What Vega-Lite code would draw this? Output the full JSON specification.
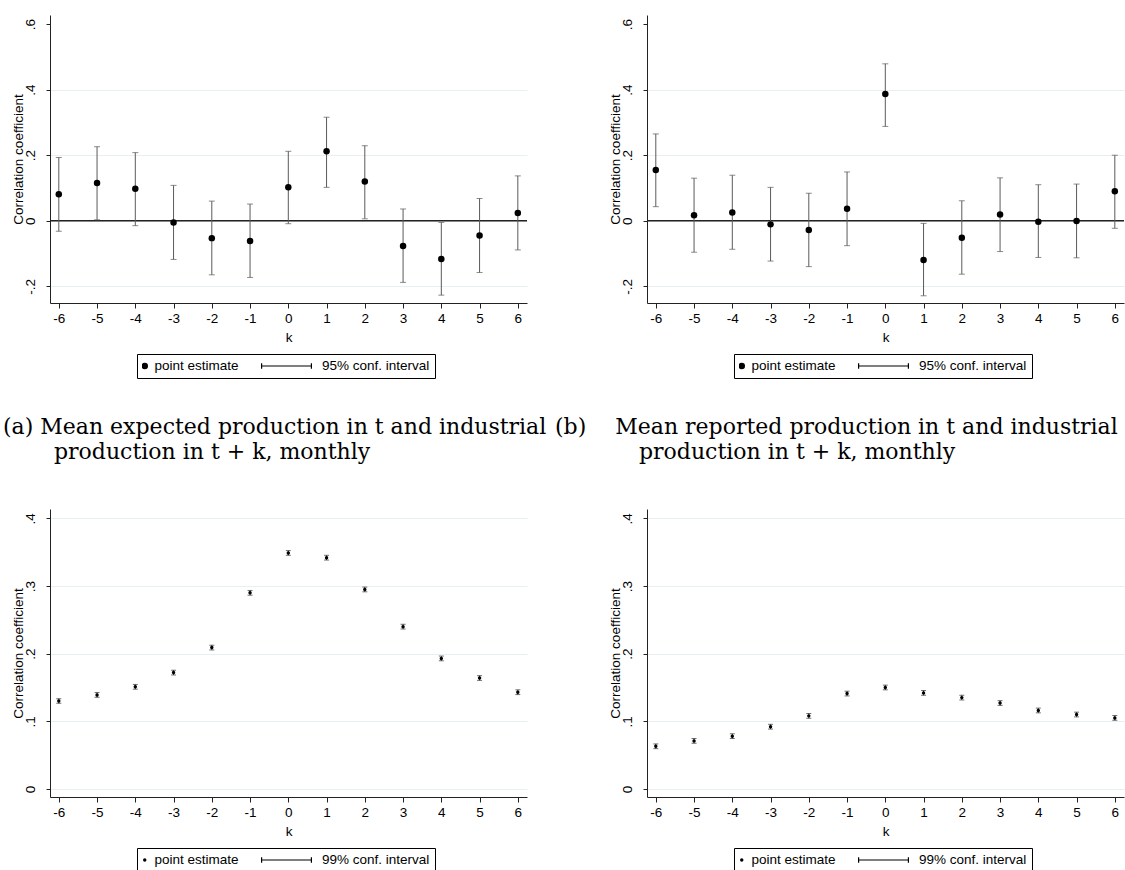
{
  "$schema": "https://vega.github.io/schema/vega-lite/v6.json",
  "background": "white",
  "padding": {"left": 3, "top": 15, "right": 0, "bottom": 0},
  "columns": 2,
  "spacing": {"row": 206, "column": 120},
  "bounds": "flush",
  "resolve": {"scale": {"shape": "independent", "size": "independent"}, "legend": {"shape": "independent", "size": "independent"}},
  "config": {
    "view": {"stroke": null},
    "font": "Liberation Sans",
    "axis": {"labelFont": "Liberation Sans", "labelFontSize": 13.5, "labelColor": "black", "titleFont": "Liberation Sans", "titleFontSize": 13.5, "titleFontWeight": "normal", "titleColor": "black", "domainColor": "#222222", "domainWidth": 1, "tickColor": "#222222", "tickWidth": 1, "labelOverlap": false},
    "axisX": {"tickSize": 5, "labelPadding": 3, "titlePadding": 6, "grid": false},
    "axisY": {"tickSize": 4, "labelPadding": 9, "titlePadding": -2.5, "labelAngle": -90, "grid": true, "gridWidth": 1},
    "legend": {"symbolStrokeColor": "black", "symbolFillColor": "black", "symbolStrokeWidth": 1}
  },
  "concat": [
    {
      "width": 477, "height": 288,
      "title": {"text": ["(a) Mean expected production in t and industrial", "\u200b\u2003\u2003 production in t + k, monthly"], "orient": "bottom", "anchor": "start", "frame": "group", "align": "left", "baseline": "top", "dx": -47, "offset": 38, "font": "DejaVu Serif", "fontSize": 22, "fontWeight": "normal", "lineHeight": 25, "color": "black"},
      "data": {"values": [
        {"k": -6, "est": 0.081, "lo": -0.032, "hi": 0.193, "series": "point estimate"},
        {"k": -5, "est": 0.115, "lo": 0.003, "hi": 0.226, "series": "point estimate"},
        {"k": -4, "est": 0.098, "lo": -0.015, "hi": 0.208, "series": "point estimate"},
        {"k": -3, "est": -0.005, "lo": -0.118, "hi": 0.108, "series": "point estimate"},
        {"k": -2, "est": -0.053, "lo": -0.165, "hi": 0.060, "series": "point estimate"},
        {"k": -1, "est": -0.062, "lo": -0.173, "hi": 0.051, "series": "point estimate"},
        {"k": 0, "est": 0.102, "lo": -0.009, "hi": 0.212, "series": "point estimate"},
        {"k": 1, "est": 0.212, "lo": 0.102, "hi": 0.316, "series": "point estimate"},
        {"k": 2, "est": 0.120, "lo": 0.006, "hi": 0.229, "series": "point estimate"},
        {"k": 3, "est": -0.077, "lo": -0.188, "hi": 0.036, "series": "point estimate"},
        {"k": 4, "est": -0.117, "lo": -0.227, "hi": -0.005, "series": "point estimate"},
        {"k": 5, "est": -0.045, "lo": -0.158, "hi": 0.068, "series": "point estimate"},
        {"k": 6, "est": 0.024, "lo": -0.089, "hi": 0.137, "series": "point estimate"}
      ]},
      "layer": [
        {"data": {"values": [{"ref": 0}]}, "mark": {"type": "rule", "color": "#222222", "strokeWidth": 1.3},
         "encoding": {"y": {"field": "ref", "type": "quantitative", "title": "Correlation coefficient", "scale": {"domain": [-0.251, 0.628], "nice": false, "zero": false},
                            "axis": {"values": [-0.2, 0, 0.2, 0.4, 0.6], "gridColor": {"condition": {"test": "datum.value > 0.5", "value": "transparent"}, "value": "#E6EFF1"}, "labelExpr": "datum.value == 0 ? '0' : (datum.value < 0 ? '-' : '') + replace(format(abs(datum.value), '.1f'), '0.', '.')"}}}},
        {"mark": {"type": "rule", "color": "#5a5a5a", "strokeWidth": 1},
         "encoding": {"x": {"field": "k", "type": "quantitative", "title": "k", "scale": {"domain": [-6.23, 6.24], "nice": false, "zero": false},
                            "axis": {"values": [-6, -5, -4, -3, -2, -1, 0, 1, 2, 3, 4, 5, 6], "labelOverlap": false, "labelExpr": "datum.value < 0 ? '-' + abs(datum.value) : '' + datum.value"}},
                      "y": {"field": "lo", "type": "quantitative", "title": "Correlation coefficient", "scale": {"domain": [-0.251, 0.628], "nice": false, "zero": false},
                            "axis": {"values": [-0.2, 0, 0.2, 0.4, 0.6], "gridColor": {"condition": {"test": "datum.value > 0.5", "value": "transparent"}, "value": "#E6EFF1"}, "labelExpr": "datum.value == 0 ? '0' : (datum.value < 0 ? '-' : '') + replace(format(abs(datum.value), '.1f'), '0.', '.')"}},
                      "y2": {"field": "hi"}}},
        {"mark": {"type": "tick", "orient": "horizontal", "size": 6, "thickness": 1, "color": "#5a5a5a"},
         "encoding": {"x": {"field": "k", "type": "quantitative", "title": "k", "scale": {"domain": [-6.23, 6.24], "nice": false, "zero": false},
                            "axis": {"values": [-6, -5, -4, -3, -2, -1, 0, 1, 2, 3, 4, 5, 6], "labelOverlap": false, "labelExpr": "datum.value < 0 ? '-' + abs(datum.value) : '' + datum.value"}},
                      "y": {"field": "lo", "type": "quantitative", "title": "Correlation coefficient", "scale": {"domain": [-0.251, 0.628], "nice": false, "zero": false},
                            "axis": {"values": [-0.2, 0, 0.2, 0.4, 0.6], "gridColor": {"condition": {"test": "datum.value > 0.5", "value": "transparent"}, "value": "#E6EFF1"}, "labelExpr": "datum.value == 0 ? '0' : (datum.value < 0 ? '-' : '') + replace(format(abs(datum.value), '.1f'), '0.', '.')"}}}},
        {"mark": {"type": "tick", "orient": "horizontal", "size": 6, "thickness": 1, "color": "#5a5a5a"},
         "encoding": {"x": {"field": "k", "type": "quantitative", "title": "k", "scale": {"domain": [-6.23, 6.24], "nice": false, "zero": false},
                            "axis": {"values": [-6, -5, -4, -3, -2, -1, 0, 1, 2, 3, 4, 5, 6], "labelOverlap": false, "labelExpr": "datum.value < 0 ? '-' + abs(datum.value) : '' + datum.value"}},
                      "y": {"field": "hi", "type": "quantitative", "title": "Correlation coefficient", "scale": {"domain": [-0.251, 0.628], "nice": false, "zero": false},
                            "axis": {"values": [-0.2, 0, 0.2, 0.4, 0.6], "gridColor": {"condition": {"test": "datum.value > 0.5", "value": "transparent"}, "value": "#E6EFF1"}, "labelExpr": "datum.value == 0 ? '0' : (datum.value < 0 ? '-' : '') + replace(format(abs(datum.value), '.1f'), '0.', '.')"}}}},
        {"mark": {"type": "point", "filled": true, "color": "black", "opacity": 1},
         "encoding": {
           "x": {"field": "k", "type": "quantitative", "title": "k", "scale": {"domain": [-6.23, 6.24], "nice": false, "zero": false},
                 "axis": {"values": [-6, -5, -4, -3, -2, -1, 0, 1, 2, 3, 4, 5, 6], "labelOverlap": false, "labelExpr": "datum.value < 0 ? '-' + abs(datum.value) : '' + datum.value"}},
           "y": {"field": "est", "type": "quantitative", "title": "Correlation coefficient", "scale": {"domain": [-0.251, 0.628], "nice": false, "zero": false},
                 "axis": {"values": [-0.2, 0, 0.2, 0.4, 0.6], "gridColor": {"condition": {"test": "datum.value > 0.5", "value": "transparent"}, "value": "#E6EFF1"}, "labelExpr": "datum.value == 0 ? '0' : (datum.value < 0 ? '-' : '') + replace(format(abs(datum.value), '.1f'), '0.', '.')"}},
           "shape": {"field": "series", "type": "nominal", "scale": {"domain": ["point estimate", "95% conf. interval"], "range": ["circle", "M-0.825,-0.09H-0.787V-0.018H0.756V-0.09H0.794V0.09H0.756V0.018H-0.787V0.09H-0.825Z"]},
                     "legend": {"title": null, "orient": "none", "legendX": 87, "legendY": 339, "direction": "horizontal", "strokeColor": "black", "fillColor": "white", "padding": 5, "clipHeight": 14, "labelOffset": 3, "columnPadding": 20, "symbolOffset": -4, "labelFont": "Liberation Sans", "labelFontSize": 13.5, "labelColor": "black"}},
           "size": {"field": "series", "type": "nominal", "scale": {"type": "point", "domain": ["point estimate", "95% conf. interval"], "range": [42, 3969]},
                    "legend": {"title": null, "orient": "none", "legendX": 87, "legendY": 339, "direction": "horizontal", "strokeColor": "black", "fillColor": "white", "padding": 5, "clipHeight": 14, "labelOffset": 3, "columnPadding": 20, "symbolOffset": -4, "labelFont": "Liberation Sans", "labelFontSize": 13.5, "labelColor": "black"}}
         }}
      ]
    },
    {
      "width": 477, "height": 288,
      "title": {"text": ["(b)\u2003 Mean reported production in t and industrial", "\u200b\u2003\u2003\u2003\u2002 production in t + k, monthly"], "orient": "bottom", "anchor": "start", "frame": "group", "align": "left", "baseline": "top", "dx": -92, "offset": 38, "font": "DejaVu Serif", "fontSize": 22, "fontWeight": "normal", "lineHeight": 25, "color": "black"},
      "data": {"values": [
        {"k": -6, "est": 0.155, "lo": 0.043, "hi": 0.265, "series": "point estimate"},
        {"k": -5, "est": 0.017, "lo": -0.096, "hi": 0.130, "series": "point estimate"},
        {"k": -4, "est": 0.025, "lo": -0.087, "hi": 0.139, "series": "point estimate"},
        {"k": -3, "est": -0.011, "lo": -0.123, "hi": 0.102, "series": "point estimate"},
        {"k": -2, "est": -0.028, "lo": -0.140, "hi": 0.084, "series": "point estimate"},
        {"k": -1, "est": 0.037, "lo": -0.076, "hi": 0.149, "series": "point estimate"},
        {"k": 0, "est": 0.387, "lo": 0.288, "hi": 0.479, "series": "point estimate"},
        {"k": 1, "est": -0.120, "lo": -0.229, "hi": -0.008, "series": "point estimate"},
        {"k": 2, "est": -0.052, "lo": -0.163, "hi": 0.061, "series": "point estimate"},
        {"k": 3, "est": 0.019, "lo": -0.094, "hi": 0.131, "series": "point estimate"},
        {"k": 4, "est": -0.003, "lo": -0.112, "hi": 0.110, "series": "point estimate"},
        {"k": 5, "est": -0.001, "lo": -0.113, "hi": 0.112, "series": "point estimate"},
        {"k": 6, "est": 0.090, "lo": -0.023, "hi": 0.200, "series": "point estimate"}
      ]},
      "layer": [
        {"data": {"values": [{"ref": 0}]}, "mark": {"type": "rule", "color": "#222222", "strokeWidth": 1.3},
         "encoding": {"y": {"field": "ref", "type": "quantitative", "title": "Correlation coefficient", "scale": {"domain": [-0.251, 0.628], "nice": false, "zero": false},
                            "axis": {"values": [-0.2, 0, 0.2, 0.4, 0.6], "gridColor": {"condition": {"test": "datum.value > 0.5", "value": "transparent"}, "value": "#E6EFF1"}, "labelExpr": "datum.value == 0 ? '0' : (datum.value < 0 ? '-' : '') + replace(format(abs(datum.value), '.1f'), '0.', '.')"}}}},
        {"mark": {"type": "rule", "color": "#5a5a5a", "strokeWidth": 1},
         "encoding": {"x": {"field": "k", "type": "quantitative", "title": "k", "scale": {"domain": [-6.23, 6.24], "nice": false, "zero": false},
                            "axis": {"values": [-6, -5, -4, -3, -2, -1, 0, 1, 2, 3, 4, 5, 6], "labelOverlap": false, "labelExpr": "datum.value < 0 ? '-' + abs(datum.value) : '' + datum.value"}},
                      "y": {"field": "lo", "type": "quantitative", "title": "Correlation coefficient", "scale": {"domain": [-0.251, 0.628], "nice": false, "zero": false},
                            "axis": {"values": [-0.2, 0, 0.2, 0.4, 0.6], "gridColor": {"condition": {"test": "datum.value > 0.5", "value": "transparent"}, "value": "#E6EFF1"}, "labelExpr": "datum.value == 0 ? '0' : (datum.value < 0 ? '-' : '') + replace(format(abs(datum.value), '.1f'), '0.', '.')"}},
                      "y2": {"field": "hi"}}},
        {"mark": {"type": "tick", "orient": "horizontal", "size": 6, "thickness": 1, "color": "#5a5a5a"},
         "encoding": {"x": {"field": "k", "type": "quantitative", "title": "k", "scale": {"domain": [-6.23, 6.24], "nice": false, "zero": false},
                            "axis": {"values": [-6, -5, -4, -3, -2, -1, 0, 1, 2, 3, 4, 5, 6], "labelOverlap": false, "labelExpr": "datum.value < 0 ? '-' + abs(datum.value) : '' + datum.value"}},
                      "y": {"field": "lo", "type": "quantitative", "title": "Correlation coefficient", "scale": {"domain": [-0.251, 0.628], "nice": false, "zero": false},
                            "axis": {"values": [-0.2, 0, 0.2, 0.4, 0.6], "gridColor": {"condition": {"test": "datum.value > 0.5", "value": "transparent"}, "value": "#E6EFF1"}, "labelExpr": "datum.value == 0 ? '0' : (datum.value < 0 ? '-' : '') + replace(format(abs(datum.value), '.1f'), '0.', '.')"}}}},
        {"mark": {"type": "tick", "orient": "horizontal", "size": 6, "thickness": 1, "color": "#5a5a5a"},
         "encoding": {"x": {"field": "k", "type": "quantitative", "title": "k", "scale": {"domain": [-6.23, 6.24], "nice": false, "zero": false},
                            "axis": {"values": [-6, -5, -4, -3, -2, -1, 0, 1, 2, 3, 4, 5, 6], "labelOverlap": false, "labelExpr": "datum.value < 0 ? '-' + abs(datum.value) : '' + datum.value"}},
                      "y": {"field": "hi", "type": "quantitative", "title": "Correlation coefficient", "scale": {"domain": [-0.251, 0.628], "nice": false, "zero": false},
                            "axis": {"values": [-0.2, 0, 0.2, 0.4, 0.6], "gridColor": {"condition": {"test": "datum.value > 0.5", "value": "transparent"}, "value": "#E6EFF1"}, "labelExpr": "datum.value == 0 ? '0' : (datum.value < 0 ? '-' : '') + replace(format(abs(datum.value), '.1f'), '0.', '.')"}}}},
        {"mark": {"type": "point", "filled": true, "color": "black", "opacity": 1},
         "encoding": {
           "x": {"field": "k", "type": "quantitative", "title": "k", "scale": {"domain": [-6.23, 6.24], "nice": false, "zero": false},
                 "axis": {"values": [-6, -5, -4, -3, -2, -1, 0, 1, 2, 3, 4, 5, 6], "labelOverlap": false, "labelExpr": "datum.value < 0 ? '-' + abs(datum.value) : '' + datum.value"}},
           "y": {"field": "est", "type": "quantitative", "title": "Correlation coefficient", "scale": {"domain": [-0.251, 0.628], "nice": false, "zero": false},
                 "axis": {"values": [-0.2, 0, 0.2, 0.4, 0.6], "gridColor": {"condition": {"test": "datum.value > 0.5", "value": "transparent"}, "value": "#E6EFF1"}, "labelExpr": "datum.value == 0 ? '0' : (datum.value < 0 ? '-' : '') + replace(format(abs(datum.value), '.1f'), '0.', '.')"}},
           "shape": {"field": "series", "type": "nominal", "scale": {"domain": ["point estimate", "95% conf. interval"], "range": ["circle", "M-0.825,-0.09H-0.787V-0.018H0.756V-0.09H0.794V0.09H0.756V0.018H-0.787V0.09H-0.825Z"]},
                     "legend": {"title": null, "orient": "none", "legendX": 87, "legendY": 339, "direction": "horizontal", "strokeColor": "black", "fillColor": "white", "padding": 5, "clipHeight": 14, "labelOffset": 3, "columnPadding": 20, "symbolOffset": -4, "labelFont": "Liberation Sans", "labelFontSize": 13.5, "labelColor": "black"}},
           "size": {"field": "series", "type": "nominal", "scale": {"type": "point", "domain": ["point estimate", "95% conf. interval"], "range": [42, 3969]},
                    "legend": {"title": null, "orient": "none", "legendX": 87, "legendY": 339, "direction": "horizontal", "strokeColor": "black", "fillColor": "white", "padding": 5, "clipHeight": 14, "labelOffset": 3, "columnPadding": 20, "symbolOffset": -4, "labelFont": "Liberation Sans", "labelFontSize": 13.5, "labelColor": "black"}}
         }}
      ]
    },
    {
      "width": 477, "height": 288,
      "data": {"values": [
        {"k": -6, "est": 0.130, "lo": 0.1265, "hi": 0.1335, "series": "point estimate"},
        {"k": -5, "est": 0.139, "lo": 0.1355, "hi": 0.1425, "series": "point estimate"},
        {"k": -4, "est": 0.151, "lo": 0.1475, "hi": 0.1545, "series": "point estimate"},
        {"k": -3, "est": 0.172, "lo": 0.1685, "hi": 0.1755, "series": "point estimate"},
        {"k": -2, "est": 0.209, "lo": 0.2055, "hi": 0.2125, "series": "point estimate"},
        {"k": -1, "est": 0.290, "lo": 0.2865, "hi": 0.2935, "series": "point estimate"},
        {"k": 0, "est": 0.349, "lo": 0.3455, "hi": 0.3525, "series": "point estimate"},
        {"k": 1, "est": 0.342, "lo": 0.3385, "hi": 0.3455, "series": "point estimate"},
        {"k": 2, "est": 0.295, "lo": 0.2915, "hi": 0.2985, "series": "point estimate"},
        {"k": 3, "est": 0.240, "lo": 0.2365, "hi": 0.2435, "series": "point estimate"},
        {"k": 4, "est": 0.193, "lo": 0.1895, "hi": 0.1965, "series": "point estimate"},
        {"k": 5, "est": 0.164, "lo": 0.1605, "hi": 0.1675, "series": "point estimate"},
        {"k": 6, "est": 0.143, "lo": 0.1395, "hi": 0.1465, "series": "point estimate"}
      ]},
      "layer": [
        {"mark": {"type": "rule", "color": "#333333", "strokeWidth": 1},
         "encoding": {"x": {"field": "k", "type": "quantitative", "title": "k", "scale": {"domain": [-6.23, 6.24], "nice": false, "zero": false},
                            "axis": {"values": [-6, -5, -4, -3, -2, -1, 0, 1, 2, 3, 4, 5, 6], "labelOverlap": false, "labelExpr": "datum.value < 0 ? '-' + abs(datum.value) : '' + datum.value"}},
                      "y": {"field": "lo", "type": "quantitative", "title": "Correlation coefficient", "scale": {"domain": [-0.012, 0.414], "nice": false, "zero": false},
                            "axis": {"values": [0, 0.1, 0.2, 0.3, 0.4], "gridColor": "#E6EFF1", "labelExpr": "datum.value == 0 ? '0' : (datum.value < 0 ? '-' : '') + replace(format(abs(datum.value), '.1f'), '0.', '.')"}},
                      "y2": {"field": "hi"}}},
        {"mark": {"type": "tick", "orient": "horizontal", "size": 5, "thickness": 1, "color": "#333333"},
         "encoding": {"x": {"field": "k", "type": "quantitative", "title": "k", "scale": {"domain": [-6.23, 6.24], "nice": false, "zero": false},
                            "axis": {"values": [-6, -5, -4, -3, -2, -1, 0, 1, 2, 3, 4, 5, 6], "labelOverlap": false, "labelExpr": "datum.value < 0 ? '-' + abs(datum.value) : '' + datum.value"}},
                      "y": {"field": "lo", "type": "quantitative", "title": "Correlation coefficient", "scale": {"domain": [-0.012, 0.414], "nice": false, "zero": false},
                            "axis": {"values": [0, 0.1, 0.2, 0.3, 0.4], "gridColor": "#E6EFF1", "labelExpr": "datum.value == 0 ? '0' : (datum.value < 0 ? '-' : '') + replace(format(abs(datum.value), '.1f'), '0.', '.')"}}}},
        {"mark": {"type": "tick", "orient": "horizontal", "size": 5, "thickness": 1, "color": "#333333"},
         "encoding": {"x": {"field": "k", "type": "quantitative", "title": "k", "scale": {"domain": [-6.23, 6.24], "nice": false, "zero": false},
                            "axis": {"values": [-6, -5, -4, -3, -2, -1, 0, 1, 2, 3, 4, 5, 6], "labelOverlap": false, "labelExpr": "datum.value < 0 ? '-' + abs(datum.value) : '' + datum.value"}},
                      "y": {"field": "hi", "type": "quantitative", "title": "Correlation coefficient", "scale": {"domain": [-0.012, 0.414], "nice": false, "zero": false},
                            "axis": {"values": [0, 0.1, 0.2, 0.3, 0.4], "gridColor": "#E6EFF1", "labelExpr": "datum.value == 0 ? '0' : (datum.value < 0 ? '-' : '') + replace(format(abs(datum.value), '.1f'), '0.', '.')"}}}},
        {"mark": {"type": "point", "filled": true, "color": "black", "opacity": 1},
         "encoding": {
           "x": {"field": "k", "type": "quantitative", "title": "k", "scale": {"domain": [-6.23, 6.24], "nice": false, "zero": false},
                 "axis": {"values": [-6, -5, -4, -3, -2, -1, 0, 1, 2, 3, 4, 5, 6], "labelOverlap": false, "labelExpr": "datum.value < 0 ? '-' + abs(datum.value) : '' + datum.value"}},
           "y": {"field": "est", "type": "quantitative", "title": "Correlation coefficient", "scale": {"domain": [-0.012, 0.414], "nice": false, "zero": false},
                 "axis": {"values": [0, 0.1, 0.2, 0.3, 0.4], "gridColor": "#E6EFF1", "labelExpr": "datum.value == 0 ? '0' : (datum.value < 0 ? '-' : '') + replace(format(abs(datum.value), '.1f'), '0.', '.')"}},
           "shape": {"field": "series", "type": "nominal", "scale": {"domain": ["point estimate", "99% conf. interval"], "range": ["circle", "M-0.825,-0.09H-0.787V-0.018H0.756V-0.09H0.794V0.09H0.756V0.018H-0.787V0.09H-0.825Z"]},
                     "legend": {"title": null, "orient": "none", "legendX": 87, "legendY": 339, "direction": "horizontal", "strokeColor": "black", "fillColor": "white", "padding": 5, "clipHeight": 14, "labelOffset": 3, "columnPadding": 20, "symbolOffset": -4, "labelFont": "Liberation Sans", "labelFontSize": 13.5, "labelColor": "black"}},
           "size": {"field": "series", "type": "nominal", "scale": {"type": "point", "domain": ["point estimate", "99% conf. interval"], "range": [12, 3969]},
                    "legend": {"title": null, "orient": "none", "legendX": 87, "legendY": 339, "direction": "horizontal", "strokeColor": "black", "fillColor": "white", "padding": 5, "clipHeight": 14, "labelOffset": 3, "columnPadding": 20, "symbolOffset": -4, "labelFont": "Liberation Sans", "labelFontSize": 13.5, "labelColor": "black"}}
         }}
      ]
    },
    {
      "width": 477, "height": 288,
      "data": {"values": [
        {"k": -6, "est": 0.063, "lo": 0.0595, "hi": 0.0665, "series": "point estimate"},
        {"k": -5, "est": 0.071, "lo": 0.0675, "hi": 0.0745, "series": "point estimate"},
        {"k": -4, "est": 0.078, "lo": 0.0745, "hi": 0.0815, "series": "point estimate"},
        {"k": -3, "est": 0.092, "lo": 0.0885, "hi": 0.0955, "series": "point estimate"},
        {"k": -2, "est": 0.108, "lo": 0.1045, "hi": 0.1115, "series": "point estimate"},
        {"k": -1, "est": 0.141, "lo": 0.1375, "hi": 0.1445, "series": "point estimate"},
        {"k": 0, "est": 0.150, "lo": 0.1465, "hi": 0.1535, "series": "point estimate"},
        {"k": 1, "est": 0.142, "lo": 0.1385, "hi": 0.1455, "series": "point estimate"},
        {"k": 2, "est": 0.135, "lo": 0.1315, "hi": 0.1385, "series": "point estimate"},
        {"k": 3, "est": 0.127, "lo": 0.1235, "hi": 0.1305, "series": "point estimate"},
        {"k": 4, "est": 0.116, "lo": 0.1125, "hi": 0.1195, "series": "point estimate"},
        {"k": 5, "est": 0.110, "lo": 0.1065, "hi": 0.1135, "series": "point estimate"},
        {"k": 6, "est": 0.105, "lo": 0.1015, "hi": 0.1085, "series": "point estimate"}
      ]},
      "layer": [
        {"mark": {"type": "rule", "color": "#333333", "strokeWidth": 1},
         "encoding": {"x": {"field": "k", "type": "quantitative", "title": "k", "scale": {"domain": [-6.23, 6.24], "nice": false, "zero": false},
                            "axis": {"values": [-6, -5, -4, -3, -2, -1, 0, 1, 2, 3, 4, 5, 6], "labelOverlap": false, "labelExpr": "datum.value < 0 ? '-' + abs(datum.value) : '' + datum.value"}},
                      "y": {"field": "lo", "type": "quantitative", "title": "Correlation coefficient", "scale": {"domain": [-0.012, 0.414], "nice": false, "zero": false},
                            "axis": {"values": [0, 0.1, 0.2, 0.3, 0.4], "gridColor": "#E6EFF1", "labelExpr": "datum.value == 0 ? '0' : (datum.value < 0 ? '-' : '') + replace(format(abs(datum.value), '.1f'), '0.', '.')"}},
                      "y2": {"field": "hi"}}},
        {"mark": {"type": "tick", "orient": "horizontal", "size": 5, "thickness": 1, "color": "#333333"},
         "encoding": {"x": {"field": "k", "type": "quantitative", "title": "k", "scale": {"domain": [-6.23, 6.24], "nice": false, "zero": false},
                            "axis": {"values": [-6, -5, -4, -3, -2, -1, 0, 1, 2, 3, 4, 5, 6], "labelOverlap": false, "labelExpr": "datum.value < 0 ? '-' + abs(datum.value) : '' + datum.value"}},
                      "y": {"field": "lo", "type": "quantitative", "title": "Correlation coefficient", "scale": {"domain": [-0.012, 0.414], "nice": false, "zero": false},
                            "axis": {"values": [0, 0.1, 0.2, 0.3, 0.4], "gridColor": "#E6EFF1", "labelExpr": "datum.value == 0 ? '0' : (datum.value < 0 ? '-' : '') + replace(format(abs(datum.value), '.1f'), '0.', '.')"}}}},
        {"mark": {"type": "tick", "orient": "horizontal", "size": 5, "thickness": 1, "color": "#333333"},
         "encoding": {"x": {"field": "k", "type": "quantitative", "title": "k", "scale": {"domain": [-6.23, 6.24], "nice": false, "zero": false},
                            "axis": {"values": [-6, -5, -4, -3, -2, -1, 0, 1, 2, 3, 4, 5, 6], "labelOverlap": false, "labelExpr": "datum.value < 0 ? '-' + abs(datum.value) : '' + datum.value"}},
                      "y": {"field": "hi", "type": "quantitative", "title": "Correlation coefficient", "scale": {"domain": [-0.012, 0.414], "nice": false, "zero": false},
                            "axis": {"values": [0, 0.1, 0.2, 0.3, 0.4], "gridColor": "#E6EFF1", "labelExpr": "datum.value == 0 ? '0' : (datum.value < 0 ? '-' : '') + replace(format(abs(datum.value), '.1f'), '0.', '.')"}}}},
        {"mark": {"type": "point", "filled": true, "color": "black", "opacity": 1},
         "encoding": {
           "x": {"field": "k", "type": "quantitative", "title": "k", "scale": {"domain": [-6.23, 6.24], "nice": false, "zero": false},
                 "axis": {"values": [-6, -5, -4, -3, -2, -1, 0, 1, 2, 3, 4, 5, 6], "labelOverlap": false, "labelExpr": "datum.value < 0 ? '-' + abs(datum.value) : '' + datum.value"}},
           "y": {"field": "est", "type": "quantitative", "title": "Correlation coefficient", "scale": {"domain": [-0.012, 0.414], "nice": false, "zero": false},
                 "axis": {"values": [0, 0.1, 0.2, 0.3, 0.4], "gridColor": "#E6EFF1", "labelExpr": "datum.value == 0 ? '0' : (datum.value < 0 ? '-' : '') + replace(format(abs(datum.value), '.1f'), '0.', '.')"}},
           "shape": {"field": "series", "type": "nominal", "scale": {"domain": ["point estimate", "99% conf. interval"], "range": ["circle", "M-0.825,-0.09H-0.787V-0.018H0.756V-0.09H0.794V0.09H0.756V0.018H-0.787V0.09H-0.825Z"]},
                     "legend": {"title": null, "orient": "none", "legendX": 87, "legendY": 339, "direction": "horizontal", "strokeColor": "black", "fillColor": "white", "padding": 5, "clipHeight": 14, "labelOffset": 3, "columnPadding": 20, "symbolOffset": -4, "labelFont": "Liberation Sans", "labelFontSize": 13.5, "labelColor": "black"}},
           "size": {"field": "series", "type": "nominal", "scale": {"type": "point", "domain": ["point estimate", "99% conf. interval"], "range": [12, 3969]},
                    "legend": {"title": null, "orient": "none", "legendX": 87, "legendY": 339, "direction": "horizontal", "strokeColor": "black", "fillColor": "white", "padding": 5, "clipHeight": 14, "labelOffset": 3, "columnPadding": 20, "symbolOffset": -4, "labelFont": "Liberation Sans", "labelFontSize": 13.5, "labelColor": "black"}}
         }}
      ]
    }
  ]
}
